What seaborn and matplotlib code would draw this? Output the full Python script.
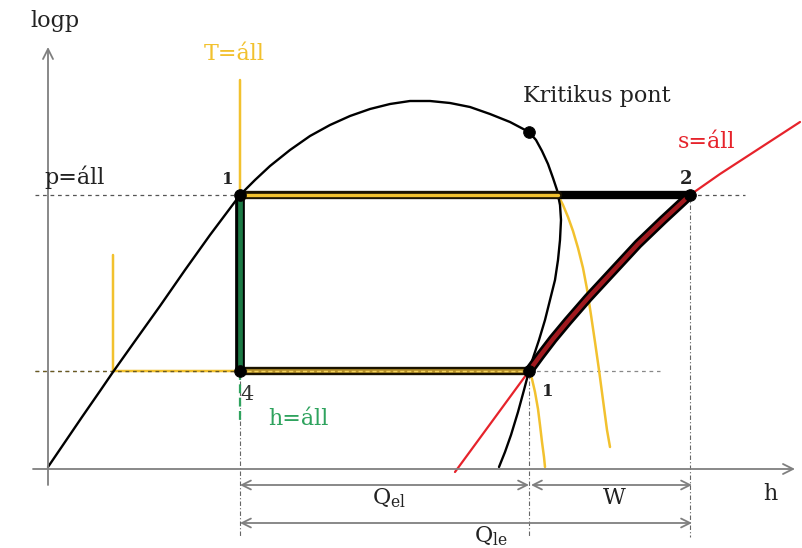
import numpy as np
import pandas as pd
import matplotlib
matplotlib.use("Agg")
import matplotlib.pyplot as plt
import seaborn as sns

# --- schematic log p - h diagram of a refrigeration cycle (diagram units) ---
# saturation dome: liquid branch up to the critical point, then vapour branch
liquid_h = [0, 17, 34, 52, 65, 87, 112, 137, 162, 192, 207, 222, 242, 262,
            282, 302, 322, 342, 362, 382, 402, 422, 442, 462, 481]
liquid_p = [0, 25, 50, 76, 95, 126, 161, 197, 232, 272, 287, 301, 317, 331,
            342, 351, 358, 363, 366, 366, 364, 360, 353, 345, 335]
vapour_h = [481, 488, 494, 500, 505, 509, 512, 513, 512, 510, 507, 502, 497,
            491, 485, 481, 476, 470, 463, 457, 451]
vapour_p = [335, 327, 316, 303, 289, 277, 262, 247, 227, 207, 187, 167, 147,
            127, 109, 96, 77, 55, 32, 15, 0]

# isotherms (T = const)
iso_hi_h = [192, 192, 510, 515, 520, 525, 530, 535, 539, 543, 547, 551, 555,
            559, 562]
iso_hi_p = [387, 272, 272, 262, 250, 236, 219, 199, 178, 152, 125, 97, 67,
            37, 20]
iso_lo_h = [65, 65, 481, 484, 487, 490, 492, 494, 496, 497]
iso_lo_p = [212, 96, 96, 88, 75, 58, 42, 25, 10, 0]

# isentrope (s = const) through state 1 and state 2
isen_h = [407, 481, 492, 505, 520, 540, 565, 590, 615, 642, 672, 712, 752]
isen_p = [-5, 96, 111, 128, 146, 169, 196, 223, 247, 272, 293, 319, 345]

# cycle states
h1, p_hi = 192, 272      # state 1 (condenser outlet, saturated liquid)
h4, p_lo = 192, 96       # state 4 (after throttling)
h1v = 481                # state 1 (evaporator outlet, saturated vapour)
h2 = 642                 # state 2 (compressor outlet)
crit_h, crit_p = 481, 335
h_vap_hi = 510           # vapour line at high pressure

# compression path 1 -> 2 (along the isentrope)
comp_h = isen_h[1:10]
comp_p = isen_p[1:10]

YELLOW = "#F2C12E"
RED = "#E6232B"
GREEN = "#1C7A45"
GREEN_TXT = "#2FA35E"
GRAY = "#7F7F7F"

sns.set_theme(style="white")
plt.rcParams["font.family"] = ["DejaVu Serif"]
plt.rcParams["mathtext.fontset"] = "dejavuserif"

fig = plt.figure(figsize=(8.03, 5.48), dpi=100)
ax = fig.add_axes([0, 0, 1, 1])
ax.set_xlim(-48, 755)
ax.set_ylim(-81, 467)
ax.axis("off")


def line(h, p, **kw):
    df = pd.DataFrame({"h": h, "p": p})
    sns.lineplot(data=df, x="h", y="p", sort=False, estimator=None, ax=ax,
                 legend=False, **kw)


# coordinate axes with arrow heads
ax.annotate("", xy=(0, 420), xytext=(0, -18),
            arrowprops=dict(arrowstyle="->", color=GRAY, lw=1.3,
                            mutation_scale=18, shrinkA=0, shrinkB=0))
ax.annotate("", xy=(747, -2), xytext=(-15, -2),
            arrowprops=dict(arrowstyle="->", color=GRAY, lw=1.3,
                            mutation_scale=18, shrinkA=0, shrinkB=0))

# guide lines
line([-13, h1], [p_hi, p_hi], color="#555555", lw=0.9, linestyle=(0, (3, 3)))
line([h2, 697], [p_hi, p_hi], color="#555555", lw=0.9, linestyle=(0, (3, 3)))
line([-13, h4], [p_lo, p_lo], color="#555555", lw=0.9, linestyle=(0, (3, 3)))
line([h1v, 612], [p_lo, p_lo], color="#888888", lw=0.9, linestyle=(0, (3, 3)))
for hv, top in [(h4, p_lo), (h1v, p_lo), (h2, p_hi)]:
    line([hv, hv], [top, -70], color="#666666", lw=0.8,
         linestyle=(0, (4, 2, 1, 2)))

# isotherms (thin)
line(iso_hi_h, iso_hi_p, color=YELLOW, lw=1.8)
line(iso_lo_h, iso_lo_p, color=YELLOW, lw=1.8)
line([-13, h4], [p_lo, p_lo], color="#6b5a20", lw=0.9, linestyle=(0, (3, 3)))

# isentrope (thin)
line(isen_h, isen_p, color=RED, lw=1.6)

# saturation dome
line(liquid_h, liquid_p, color="black", lw=1.7)
line(vapour_h, vapour_p, color="black", lw=1.7)

# h = const continuation below state 4
line([h4, h4], [p_lo, 47], color=GREEN_TXT, lw=1.6, linestyle=(0, (4, 2)))

# cycle: condensation 2 -> 1 (superheated part in black)
line([h_vap_hi, h2], [p_hi, p_hi], color="black", lw=6)
line([h1, h_vap_hi], [p_hi, p_hi], color="#1a1200", lw=6)
line([h1, h_vap_hi], [p_hi, p_hi], color=YELLOW, lw=2.4)
# evaporation 4 -> 1
line([h4, h1v], [p_lo, p_lo], color="#1a1200", lw=6)
line([h4, h1v], [p_lo, p_lo], color="#B8922A", lw=2.6)
line([h4, h1v], [p_lo, p_lo], color="#F4D35E", lw=1.0, linestyle=(0, (3, 2)))
# throttling 1 -> 4
line([h1, h4], [p_hi, p_lo], color="black", lw=7)
line([h1, h4], [p_hi, p_lo], color=GREEN, lw=3.4)
# compression 1 -> 2
line(comp_h, comp_p, color="black", lw=7)
line(comp_h, comp_p, color="#A0191E", lw=3.2)

# state points and critical point
pts = pd.DataFrame({"h": [h1, h4, h1v, h2, crit_h],
                    "p": [p_hi, p_lo, p_lo, p_hi, crit_p]})
sns.scatterplot(data=pts, x="h", y="p", color="black", s=70, ax=ax,
                edgecolor="black", zorder=10, legend=False)

# dimension arrows
arrow_kw = dict(arrowstyle="<->", color=GRAY, lw=1.3, mutation_scale=16,
                shrinkA=0, shrinkB=0)
ax.annotate("", xy=(h1, -18), xytext=(h1v, -18), arrowprops=arrow_kw)
ax.annotate("", xy=(h1v + 2, -18), xytext=(h2 + 2, -18), arrowprops=arrow_kw)
ax.annotate("", xy=(h1, -56), xytext=(h2 + 2, -56), arrowprops=arrow_kw)

txt = dict(fontsize=16, color="#222222", ha="center", va="center")
ax.text(341, -31, r"Q$_{\mathrm{el}}$", **txt)
ax.text(566, -31, "W", **txt)
ax.text(443, -69, r"Q$_{\mathrm{le}}$", **txt)

# labels
ax.text(7, 446, "logp", **txt)
ax.text(722, -27, "h", **txt)
ax.text(27, 290, "p=áll", **txt)
ax.text(186, 413, "T=áll", fontsize=16, color=YELLOW, ha="center", va="center")
ax.text(659, 325, "s=áll", fontsize=16, color=RED, ha="center", va="center")
ax.text(250, 48, "h=áll", fontsize=16, color=GREEN_TXT, ha="center",
        va="center")
ax.text(549, 371, "Kritikus pont", **txt)
ax.text(180, 288, "1", fontsize=12, fontweight="bold", color="#222222",
        ha="center", va="center")
ax.text(500, 75, "1", fontsize=12, fontweight="bold", color="#222222",
        ha="center", va="center")
ax.text(638, 288, "2", fontsize=13, fontweight="bold", color="#222222",
        ha="center", va="center")
ax.text(199, 72, "4", fontsize=15, color="#333333", ha="center", va="center")

fig.savefig("out.png", dpi=100)
